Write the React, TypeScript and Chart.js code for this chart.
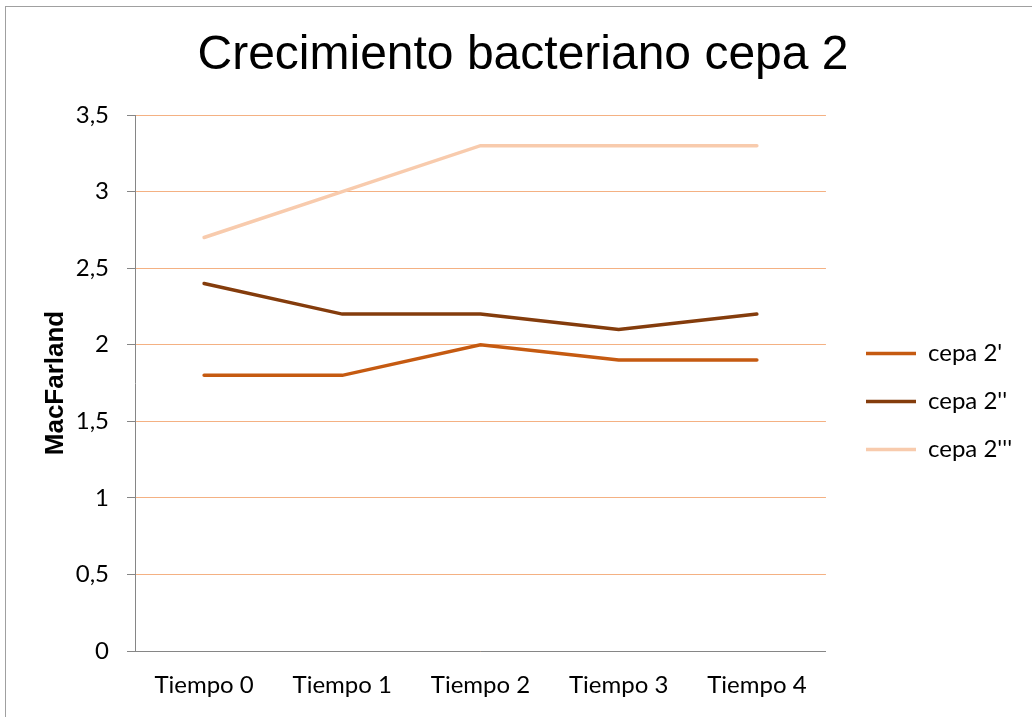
import React, { useEffect, useRef } from 'react';
import { Chart, registerables } from 'chart.js';

Chart.register(...registerables);

const categories = ['Tiempo 0', 'Tiempo 1', 'Tiempo 2', 'Tiempo 3', 'Tiempo 4'];
const seriesNames = ["cepa 2'", "cepa 2''", "cepa 2'''"];
const cepa2a = [1.8, 1.8, 2.0, 1.9, 1.9];
const cepa2b = [2.4, 2.2, 2.2, 2.1, 2.2];
const cepa2c = [2.7, 3.0, 3.3, 3.3, 3.3];
const yTicks = [0, 0.5, 1, 1.5, 2, 2.5, 3, 3.5];
const yTickLabels = ['0', '0,5', '1', '1,5', '2', '2,5', '3', '3,5'];
const titleText = 'Crecimiento bacteriano cepa 2';
const yTitleText = 'MacFarland';

const PAD_L = 40;
const PAD_R = 26;
const PLOT_LEFT = 135;
const PLOT_BOTTOM = 651;
const LEGEND_LINE_X = 866;
const LEGEND_TOP = 43;

const legendShift = {
  id: 'legendShift',
  afterLayout(chart: any) {
    const l = chart.legend;
    if (!l) return;
    const pad = l.options.labels.padding;
    const w = l.width;
    const h = l.height;
    l.left = LEGEND_LINE_X - pad;
    l.right = l.left + w;
    l.top = LEGEND_TOP;
    l.bottom = LEGEND_TOP + h;
  },
};

export default function App() {
  const ref = useRef<HTMLCanvasElement | null>(null);

  useEffect(() => {
    if (!ref.current) return;
    const tickFont = { family: 'Lato', size: 24 };
    const chart = new Chart(ref.current, {
      type: 'line',
      data: {
        labels: categories,
        datasets: [
          { label: seriesNames[0], data: cepa2a, borderColor: '#C55A11', backgroundColor: '#C55A11' },
          { label: seriesNames[1], data: cepa2b, borderColor: '#843C0C', backgroundColor: '#843C0C' },
          { label: seriesNames[2], data: cepa2c, borderColor: '#F8CBAD', backgroundColor: '#F8CBAD' },
        ].map((d) => ({
          ...d,
          borderWidth: 3.5,
          pointRadius: 0,
          pointHoverRadius: 0,
          tension: 0,
          fill: false,
          borderCapStyle: 'round' as const,
        })),
      },
      options: {
        responsive: false,
        animation: false,
        layout: { padding: { left: PAD_L, right: PAD_R, top: 0, bottom: 0 } },
        plugins: {
          title: {
            display: true,
            text: titleText,
            color: '#000',
            font: { family: 'Liberation Sans', size: 48, weight: 'normal' },
            padding: { top: 27, bottom: 30.4 },
          },
          legend: {
            position: 'right',
            align: 'center',
            labels: {
              usePointStyle: true,
              pointStyle: 'line',
              pointStyleWidth: 50,
              padding: 24,
              color: '#000',
              font: tickFont,
            },
          },
          tooltip: { enabled: false },
        },
        scales: {
          x: {
            type: 'category',
            offset: true,
            grid: { drawOnChartArea: false, drawTicks: false, color: 'transparent' },
            border: { color: '#868686', width: 1 },
            ticks: { color: '#000', font: tickFont, padding: 20, maxRotation: 0, autoSkip: false },
            afterFit: (s: any) => {
              s.height = 717 - PLOT_BOTTOM;
            },
          },
          y: {
            type: 'linear',
            min: 0,
            max: 3.5,
            afterBuildTicks: (s: any) => {
              s.ticks = yTicks.map((v) => ({ value: v }));
            },
            grid: { color: '#F4B183', lineWidth: 1, tickColor: '#868686', tickLength: 8 },
            border: { color: '#868686', width: 1 },
            ticks: {
              color: '#000',
              font: tickFont,
              padding: 18,
              callback: (_v: any, i: number) => yTickLabels[i],
            },
            title: {
              display: true,
              text: yTitleText,
              color: '#000',
              font: { family: 'Liberation Sans', size: 26, weight: 'bold', lineHeight: 1 },
              padding: { top: 3, bottom: 0 },
            },
            afterFit: (s: any) => {
              s.width = PLOT_LEFT - PAD_L;
            },
          },
        },
      },
      plugins: [legendShift],
    });
    return () => chart.destroy();
  }, []);

  return (
    <div style={{ position: 'absolute', left: 0, top: 0, width: 1032, height: 717, overflow: 'hidden', background: '#fff' }}>
      <div
        style={{
          position: 'absolute',
          left: 5,
          top: 6,
          width: 1100,
          height: 800,
          border: '1px solid #a0a0a0',
        }}
      />
      <canvas ref={ref} width={1032} height={717} style={{ position: 'absolute', left: 0, top: 0 }} />
    </div>
  );
}
